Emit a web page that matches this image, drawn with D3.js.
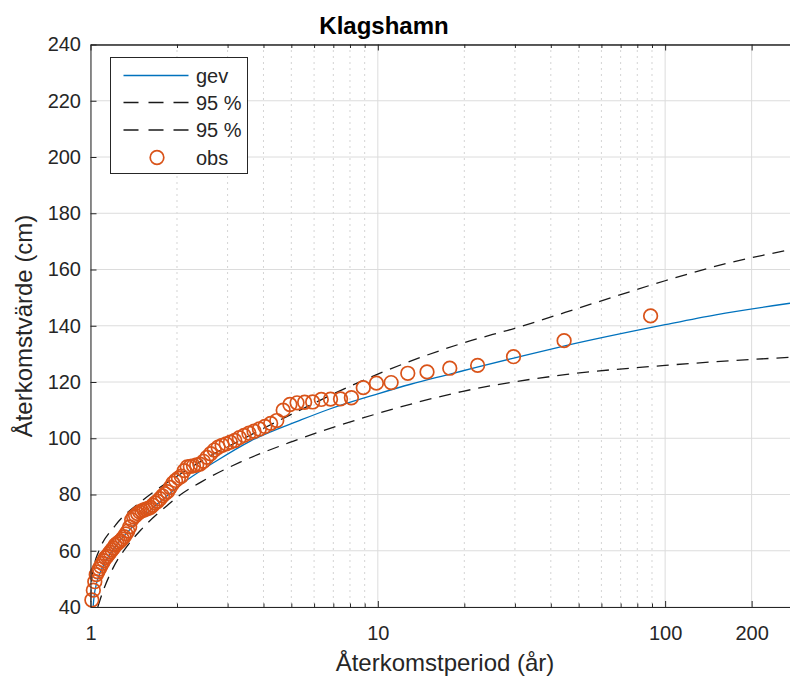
<!DOCTYPE html>
<html>
<head>
<meta charset="utf-8">
<script src="https://cdn.jsdelivr.net/npm/d3@7"></script>
<style>
    body { margin: 0; background: #fff; }
    svg text { font-family: "Liberation Sans", Arial, Helvetica, sans-serif; fill: #262626; }
</style>
</head>
<body>
<svg id="chart" width="790" height="677"></svg>
<script>
// tick values
const xTickValues = [1, 10, 100, 200];
const xTickLabels = ['1', '10', '100', '200'];
const xMinorTicks = [2, 3, 4, 5, 6, 7, 8, 9, 20, 30, 40, 50, 60, 70, 80, 90];
const yTickValues = [40, 60, 80, 100, 120, 140, 160, 180, 200, 220, 240];

// observations (return period in years, level in cm), ranked
const obsPeriod = [89, 44.5, 29.667, 22.25, 17.8, 14.833, 12.714, 11.125, 9.889, 8.9,
    8.091, 7.417, 6.846, 6.357, 5.933, 5.563, 5.235, 4.944, 4.684, 4.45,
    4.238, 4.045, 3.87, 3.708, 3.56, 3.423, 3.296, 3.179, 3.069, 2.967,
    2.871, 2.781, 2.697, 2.618, 2.543, 2.472, 2.405, 2.342, 2.282, 2.225,
    2.171, 2.119, 2.07, 2.023, 1.978, 1.935, 1.894, 1.854, 1.816, 1.78,
    1.745, 1.712, 1.679, 1.648, 1.618, 1.589, 1.561, 1.534, 1.508, 1.483,
    1.459, 1.435, 1.413, 1.391, 1.369, 1.348, 1.328, 1.309, 1.29, 1.271,
    1.254, 1.236, 1.219, 1.203, 1.187, 1.171, 1.156, 1.141, 1.127, 1.113,
    1.099, 1.085, 1.072, 1.06, 1.047, 1.035, 1.023, 1.011];
const obsLevel = [143.5, 134.7, 129.0, 125.9, 124.9, 123.6, 123.1, 119.8, 119.6, 118.0,
    114.4, 114.0, 113.9, 113.8, 112.9, 112.8, 112.6, 112.0, 110.0, 106.3,
    105.3, 104.2, 103.3, 102.5, 101.8, 101.0, 100.2, 99.2, 98.6, 98.0,
    97.5, 96.8, 95.8, 94.5, 93.2, 91.8, 90.8, 90.5, 90.2, 90.0,
    89.8, 88.5, 86.5, 85.8, 85.0, 84.0, 82.5, 81.0, 80.3, 79.5,
    78.5, 77.6, 77.0, 76.2, 75.4, 75.1, 74.8, 74.5, 74.2, 73.8,
    73.2, 72.5, 72.0, 71.0, 68.5, 67.0, 66.0, 65.0, 64.2, 63.5,
    63.0, 62.5, 62.0, 61.0, 60.3, 59.5, 58.8, 58.0, 57.5, 56.5,
    55.5, 54.5, 53.5, 52.5, 51.5, 49.0, 46.0, 42.5];

// fitted gev curve
const gevPeriod = [1.021, 1.03, 1.05, 1.1, 1.2, 1.35, 1.5, 1.8, 2, 2.75, 3.6, 5.4, 6.8, 10, 13, 18, 22, 30, 44, 100, 150, 272];
const gevLevel = [40, 44, 48.5, 54, 60.5, 66.8, 71.5, 78.6, 82.5, 92, 99, 106.5, 110.4, 115.8, 119.2, 122.9, 125.2, 128.6, 132.7, 140.4, 143.9, 148];

// 95 % bounds
const upperPeriod = [1.001, 1.003, 1.01, 1.035, 1.065, 1.22, 1.5, 2, 2.6, 3.4, 4.8, 8.5, 10, 20, 30, 56, 100, 160, 272];
const upperLevel = [41.9, 45.2, 49.7, 55.8, 59.5, 69, 77.5, 86.5, 93.6, 99.8, 107.6, 119.7, 122.8, 134, 139.1, 147.9, 156, 161.9, 167];
const lowerPeriod = [1.06, 1.1, 1.2, 1.35, 1.5, 1.87, 2.05, 2.44, 3.32, 5.09, 8.67, 10, 19.6, 44.8, 100, 272];
const lowerLevel = [40, 45, 54, 62, 67.5, 76.5, 79.8, 84.6, 91.5, 99, 106.9, 108.8, 116.6, 122.6, 125.9, 128.8];

const legendLabels = ['gev', '95 %', '95 %', 'obs'];

const svg = d3.select('#chart');
const plotLeft = 90.5, plotRight = 790, plotTop = 44.5, plotBottom = 607;

const x = d3.scaleLog().domain([1, 272]).range([plotLeft, plotRight]);
const y = d3.scaleLinear().domain([40, 240]).range([plotBottom, plotTop]);

svg.append('defs').append('clipPath').attr('id', 'plotclip')
    .append('rect')
    .attr('x', plotLeft).attr('y', plotTop)
    .attr('width', plotRight - plotLeft).attr('height', plotBottom - plotTop);

// grid
const grid = svg.append('g');
grid.selectAll('line.minor')
    .data(xMinorTicks)
    .join('line')
    .attr('class', 'minor')
    .attr('x1', d => x(d)).attr('x2', d => x(d))
    .attr('y1', plotTop).attr('y2', plotBottom)
    .attr('stroke', '#a8a8a8')
    .attr('stroke-width', 1)
    .attr('stroke-dasharray', '1,5');
grid.selectAll('line.xmajor')
    .data(xTickValues)
    .join('line')
    .attr('class', 'xmajor')
    .attr('x1', d => x(d)).attr('x2', d => x(d))
    .attr('y1', plotTop).attr('y2', plotBottom)
    .attr('stroke', '#dcdcdc');
grid.selectAll('line.ymajor')
    .data(yTickValues)
    .join('line')
    .attr('class', 'ymajor')
    .attr('x1', plotLeft).attr('x2', plotRight)
    .attr('y1', d => y(d)).attr('y2', d => y(d))
    .attr('stroke', '#dcdcdc');

// curves
const plot = svg.append('g').attr('clip-path', 'url(#plotclip)');
const line = d3.line()
    .x(d => x(d[0]))
    .y(d => y(d[1]))
    .curve(d3.curveMonotoneX);

plot.append('path')
    .datum(upperPeriod.map((p, i) => [p, upperLevel[i]]))
    .attr('d', line)
    .attr('fill', 'none')
    .attr('stroke', '#1a1a1a')
    .attr('stroke-width', 1.3)
    .attr('stroke-dasharray', '12,8');
plot.append('path')
    .datum(lowerPeriod.map((p, i) => [p, lowerLevel[i]]))
    .attr('d', line)
    .attr('fill', 'none')
    .attr('stroke', '#1a1a1a')
    .attr('stroke-width', 1.3)
    .attr('stroke-dasharray', '12,8');
plot.append('path')
    .datum(gevPeriod.map((p, i) => [p, gevLevel[i]]))
    .attr('d', line)
    .attr('fill', 'none')
    .attr('stroke', '#0072BD')
    .attr('stroke-width', 1.3);

// observations
svg.append('g')
    .selectAll('circle')
    .data(obsPeriod.map((p, i) => [p, obsLevel[i]]))
    .join('circle')
    .attr('cx', d => x(d[0]))
    .attr('cy', d => y(d[1]))
    .attr('r', 6.8)
    .attr('fill', 'none')
    .attr('stroke', '#D95319')
    .attr('stroke-width', 1.7);

// axes
function styleAxis(g) {
    g.selectAll('.domain').attr('stroke', '#262626');
    g.selectAll('.tick line').attr('stroke', '#262626');
    g.selectAll('.tick text').attr('fill', '#262626')
        .style('font-size', '20px')
        .attr('font-family', null);
}

svg.append('g')
    .attr('transform', `translate(0,${plotBottom})`)
    .call(d3.axisBottom(x).tickValues(xTickValues)
        .tickFormat((d, i) => xTickLabels[i])
        .tickSize(-6).tickSizeOuter(0).tickPadding(19))
    .call(styleAxis);
svg.append('g')
    .attr('transform', `translate(0,${plotBottom})`)
    .call(d3.axisBottom(x).tickValues(xMinorTicks).tickFormat('')
        .tickSize(-3.5).tickSizeOuter(0))
    .call(styleAxis);
svg.append('g')
    .attr('transform', `translate(0,${plotTop})`)
    .call(d3.axisTop(x).tickValues(xTickValues).tickFormat('')
        .tickSize(-6).tickSizeOuter(0))
    .call(styleAxis);
svg.append('g')
    .attr('transform', `translate(0,${plotTop})`)
    .call(d3.axisTop(x).tickValues(xMinorTicks).tickFormat('')
        .tickSize(-3.5).tickSizeOuter(0))
    .call(styleAxis);
svg.append('g')
    .attr('transform', `translate(${plotLeft},0)`)
    .call(d3.axisLeft(y).tickValues(yTickValues)
        .tickSize(-6).tickSizeOuter(0).tickPadding(9.5))
    .call(styleAxis);

// title and labels
svg.append('text')
    .attr('x', 384).attr('y', 34)
    .attr('text-anchor', 'middle')
    .style('font-size', '24px')
    .style('font-weight', 'bold')
    .style('fill', '#000')
    .text('Klagshamn');
svg.append('text')
    .attr('x', 445).attr('y', 671)
    .attr('text-anchor', 'middle')
    .style('font-size', '24px')
    .text('Återkomstperiod (år)');
svg.append('text')
    .attr('transform', 'translate(32,326) rotate(-90)')
    .attr('text-anchor', 'middle')
    .style('font-size', '24px')
    .text('Återkomstvärde (cm)');

// legend
const legend = svg.append('g');
legend.append('rect')
    .attr('x', 110.5).attr('y', 57.5)
    .attr('width', 137).attr('height', 116)
    .attr('fill', '#fff')
    .attr('stroke', '#262626');
const rowY = [75.5, 102.5, 130, 157.5];
legendLabels.forEach((label, i) => {
    if (i === 0) {
        legend.append('line')
            .attr('x1', 123.5).attr('x2', 188.5)
            .attr('y1', rowY[i]).attr('y2', rowY[i])
            .attr('stroke', '#0072BD').attr('stroke-width', 1.3);
    } else if (i < 3) {
        legend.append('line')
            .attr('x1', 123.5).attr('x2', 188.5)
            .attr('y1', rowY[i]).attr('y2', rowY[i])
            .attr('stroke', '#1a1a1a').attr('stroke-width', 1.3)
            .attr('stroke-dasharray', '15,10');
    } else {
        legend.append('circle')
            .attr('cx', 157).attr('cy', rowY[i]).attr('r', 6.8)
            .attr('fill', 'none')
            .attr('stroke', '#D95319').attr('stroke-width', 1.7);
    }
    legend.append('text')
        .attr('x', 196).attr('y', rowY[i])
        .attr('dy', '0.35em')
        .style('font-size', '20px')
        .text(label);
});
</script>
</body>
</html>
